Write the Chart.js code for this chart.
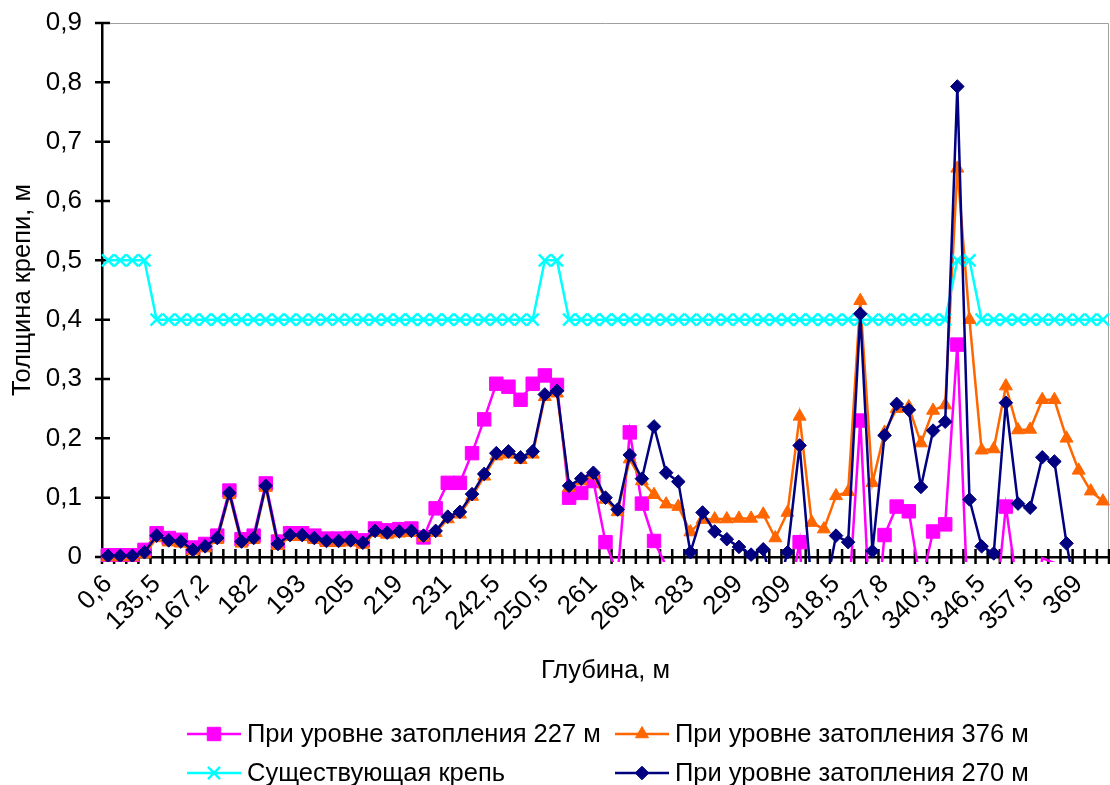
<!DOCTYPE html>
<html>
<head>
<meta charset="utf-8">
<script src="https://cdn.jsdelivr.net/npm/chart.js"></script>
<style>
  html, body { margin: 0; padding: 0; background: #fff; overflow: hidden; }
  #wrap { width: 1110px; height: 785px; }
</style>
</head>
<body>
<div id="wrap"><canvas id="chart" width="1110" height="785"></canvas></div>
<script>
// shown depth labels (every 4th category)
const shownDepths = ["0,6", "135,5", "167,2", "182", "193", "205", "219", "231", "242,5", "250,5",
  "261", "269,4", "283", "299", "309", "318,5", "327,8", "340,3", "346,5", "357,5", "369"];

const categoryCount = 83;
const categories = [];
for (let i = 0; i < categoryCount; i++) {
  categories.push(i % 4 === 0 ? shownDepths[i / 4] : "");
}

const yTicks = [0, 0.1, 0.2, 0.3, 0.4, 0.5, 0.6, 0.7, 0.8, 0.9];

// при уровне затопления 227 м
const flood227 = [
  0.003, 0.003, 0.003, 0.012, 0.040, 0.032, 0.029, 0.016, 0.022, 0.036,
  0.112, 0.030, 0.036, 0.124, 0.026, 0.040, 0.040, 0.036, 0.031, 0.031,
  0.032, 0.028, 0.048, 0.045, 0.047, 0.048, 0.033, 0.082, 0.125, 0.125,
  0.175, 0.232, 0.292, 0.287, 0.265, 0.292, 0.306, 0.290, 0.100, 0.108,
  0.128, 0.025, -0.030, 0.210, 0.090, 0.027, -0.015, -0.100, -0.100, -0.100,
  -0.100, -0.100, -0.100, -0.100, -0.100, -0.100, -0.085, 0.025, -0.300, -0.100,
  -0.100, -0.086, 0.230, -0.180, 0.037, 0.085, 0.077, -0.047, 0.043, 0.055,
  0.358, -0.150, -0.300, -0.120, 0.085, -0.060, -0.150, -0.002, -0.010, -0.100,
  -0.100, -0.100, -0.100
];

// при уровне затопления 376 м
const flood376 = [
  0.000, 0.000, 0.000, 0.005, 0.032, 0.025, 0.023, 0.010, 0.015, 0.029,
  0.105, 0.023, 0.029, 0.117, 0.019, 0.034, 0.034, 0.029, 0.024, 0.024,
  0.025, 0.021, 0.041, 0.038, 0.040, 0.041, 0.033, 0.041, 0.064, 0.072,
  0.102, 0.136, 0.170, 0.173, 0.164, 0.173, 0.270, 0.276, 0.117, 0.128,
  0.138, 0.097, 0.076, 0.165, 0.128, 0.105, 0.089, 0.085, 0.042, 0.063,
  0.064, 0.064, 0.065, 0.065, 0.072, 0.032, 0.075, 0.237, 0.058, 0.047,
  0.103, 0.110, 0.432, 0.125, 0.210, 0.250, 0.253, 0.192, 0.247, 0.256,
  0.655, 0.400, 0.180, 0.182, 0.288, 0.214, 0.215, 0.265, 0.265, 0.200,
  0.146, 0.111, 0.094
];

// существующая крепь
const existing = [
  0.5, 0.5, 0.5, 0.5, 0.4, 0.4, 0.4, 0.4, 0.4, 0.4,
  0.4, 0.4, 0.4, 0.4, 0.4, 0.4, 0.4, 0.4, 0.4, 0.4,
  0.4, 0.4, 0.4, 0.4, 0.4, 0.4, 0.4, 0.4, 0.4, 0.4,
  0.4, 0.4, 0.4, 0.4, 0.4, 0.4, 0.5, 0.5, 0.4, 0.4,
  0.4, 0.4, 0.4, 0.4, 0.4, 0.4, 0.4, 0.4, 0.4, 0.4,
  0.4, 0.4, 0.4, 0.4, 0.4, 0.4, 0.4, 0.4, 0.4, 0.4,
  0.4, 0.4, 0.4, 0.4, 0.4, 0.4, 0.4, 0.4, 0.4, 0.4,
  0.5, 0.5, 0.4, 0.4, 0.4, 0.4, 0.4, 0.4, 0.4, 0.4,
  0.4, 0.4, 0.4
];

// при уровне затопления 270 м
const flood270 = [
  0.002, 0.002, 0.002, 0.008, 0.036, 0.028, 0.026, 0.012, 0.018, 0.032,
  0.108, 0.026, 0.032, 0.120, 0.022, 0.037, 0.037, 0.032, 0.027, 0.027,
  0.028, 0.024, 0.044, 0.041, 0.043, 0.044, 0.036, 0.044, 0.068, 0.076,
  0.106, 0.140, 0.175, 0.178, 0.168, 0.178, 0.274, 0.280, 0.120, 0.132,
  0.142, 0.100, 0.080, 0.172, 0.132, 0.220, 0.142, 0.127, 0.008, 0.075,
  0.043, 0.030, 0.017, 0.004, 0.013, -0.070, 0.008, 0.188, -0.050, -0.070,
  0.036, 0.025, 0.410, 0.010, 0.205, 0.258, 0.248, 0.118, 0.213, 0.228,
  0.793, 0.097, 0.018, 0.006, 0.260, 0.090, 0.083, 0.168, 0.161, 0.023,
  -0.090, -0.100, -0.100
];

const FONT = "'Liberation Sans', Arial, sans-serif";
const FS = 25.5;
const TICK_FS = 26;

// Excel hides markers that fall below the axis
const markerRadius = r => ctx => (ctx.raw < 0 ? 0 : r);

function series(label, data, color, style, radius, order) {
  return {
    label: label,
    data: data,
    borderColor: color,
    backgroundColor: color,
    borderWidth: 2.5,
    pointStyle: style,
    pointRadius: markerRadius(radius),
    pointBorderWidth: style === "crossRot" ? 2.5 : 1,
    pointBorderColor: color,
    pointBackgroundColor: color,
    tension: 0,
    order: order,
    clip: { left: 10, top: 10, right: 10, bottom: 5 }
  };
}

const datasets = [
  series("При уровне затопления 227 м", flood227, "#ff00ff", "rect", 9.5, 4),
  series("При уровне затопления 376 м", flood376, "#ff6600", "triangle", 7.5, 3),
  series("Существующая крепь", existing, "#00ffff", "crossRot", 8.5, 2),
  series("При уровне затопления 270 м", flood270, "#000080", "rectRot", 6.8, 1)
];

// crossing tick marks + light frame on top/right of the plot area
const axisTicks = {
  id: "axisTicks",
  beforeDatasetsDraw(chart) {
    const { ctx, chartArea: a, scales: { x, y } } = chart;
    ctx.save();
    ctx.strokeStyle = "#a0a0a0";
    ctx.lineWidth = 1;
    ctx.beginPath();
    ctx.moveTo(a.left, a.top + 0.5);
    ctx.lineTo(a.right - 0.5, a.top + 0.5);
    ctx.lineTo(a.right - 0.5, a.bottom);
    ctx.stroke();

    ctx.strokeStyle = "#000";
    ctx.lineWidth = 2.5;
    ctx.beginPath();
    for (let i = 0; i <= categories.length; i++) {
      const px = x.getPixelForValue(i - 0.5);
      ctx.moveTo(px, a.bottom - 8);
      ctx.lineTo(px, a.bottom + 7);
    }
    y.ticks.forEach(t => {
      const py = y.getPixelForValue(t.value);
      ctx.moveTo(a.left - 7, py);
      ctx.lineTo(a.left + 8, py);
    });
    ctx.stroke();
    ctx.restore();
  }
};

// two-column legend like the Excel original
const gridLegend = {
  id: "gridLegend",
  afterDraw(chart) {
    const ctx = chart.ctx;
    const cols = [187, 615];
    const rows = [734, 773];
    const lineLen = 54;
    ctx.save();
    chart.data.datasets.forEach((ds, i) => {
      const x0 = cols[i % 2];
      const y0 = rows[Math.floor(i / 2)];
      ctx.strokeStyle = ds.borderColor;
      ctx.lineWidth = 2.5;
      ctx.beginPath();
      ctx.moveTo(x0, y0);
      ctx.lineTo(x0 + lineLen, y0);
      ctx.stroke();
      const r = ds.pointRadius({ raw: 1 });
      ctx.fillStyle = ds.pointBackgroundColor;
      ctx.strokeStyle = ds.pointBorderColor;
      ctx.lineWidth = ds.pointBorderWidth;
      Chart.helpers.drawPoint(ctx, { pointStyle: ds.pointStyle, radius: r, borderWidth: ds.pointBorderWidth, rotation: 0 }, x0 + lineLen / 2, y0);
      ctx.fillStyle = "#000";
      ctx.font = FS + "px " + FONT;
      ctx.textBaseline = "middle";
      ctx.textAlign = "left";
      ctx.fillText(ds.label, x0 + lineLen + 6, y0 + 1);
    });
    ctx.restore();
  }
};

new Chart(document.getElementById("chart"), {
  type: "line",
  data: { labels: categories, datasets: datasets },
  plugins: [axisTicks, gridLegend],
  options: {
    responsive: false,
    animation: false,
    devicePixelRatio: 1,
    layout: { autoPadding: false, padding: { top: 23, right: 1, left: 0, bottom: 99 } },
    plugins: {
      legend: { display: false },
      tooltip: { enabled: false }
    },
    scales: {
      x: {
        type: "category",
        offset: true,
        grid: { display: true, drawOnChartArea: false, drawTicks: false },
        border: { display: true, color: "#000", width: 2.5 },
        ticks: {
          autoSkip: false,
          maxRotation: 45,
          minRotation: 45,
          padding: 12,
          color: "#000",
          font: { family: FONT, size: TICK_FS }
        },
        title: {
          display: true,
          text: "Глубина, м",
          color: "#000",
          padding: 0,
          font: { family: FONT, size: FS }
        },
        afterFit: s => {
          s.height = 129;
          s.paddingLeft = 0;
          s.paddingRight = 0;
        }
      },
      y: {
        min: 0,
        max: 0.9,
        afterBuildTicks: s => { s.ticks = yTicks.map(v => ({ value: v })); },
        grid: { display: true, drawOnChartArea: false, drawTicks: false },
        border: { display: true, color: "#000", width: 2.5 },
        ticks: {
          padding: 20,
          color: "#000",
          font: { family: FONT, size: TICK_FS },
          callback: v => (v === 0 ? "0" : v.toFixed(1).replace(".", ","))
        },
        title: {
          display: true,
          text: "Толщина крепи, м",
          color: "#000",
          padding: { top: 8, bottom: 0 },
          font: { family: FONT, size: FS }
        },
        afterFit: s => {
          s.width = 102;
          s.paddingTop = 0;
          s.paddingBottom = 0;
        }
      }
    }
  }
});
</script>
</body>
</html>
